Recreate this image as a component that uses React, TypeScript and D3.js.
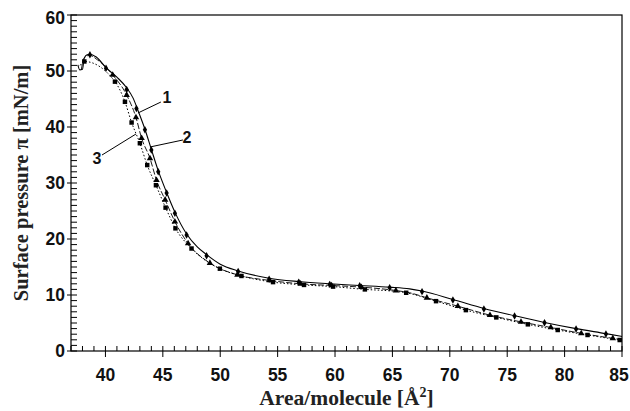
import * as d3 from 'd3'

// Curve 1: solid line, diamond markers
const line1X = [37.6, 37.76, 38.0, 38.15, 38.4, 38.65, 39.2, 40.05, 41.0, 41.85, 42.4, 42.9, 43.44, 44.0, 44.6, 45.33, 46.05, 47.07, 48.0, 48.81, 50.0, 51.56, 54.26, 56.84, 59.54, 62.15, 64.76, 66.5, 67.58, 70.27, 72.97, 75.64, 78.25, 81.0, 83.6, 85.0]
const line1Y = [51.1, 50.2, 50.3, 52.3, 52.9, 53.0, 52.5, 50.6, 48.9, 47.0, 45.2, 42.6, 39.6, 36.0, 32.2, 28.3, 24.8, 20.9, 18.6, 17.2, 15.5, 14.3, 13.0, 12.4, 12.0, 11.7, 11.4, 11.1, 10.7, 9.2, 7.6, 6.3, 5.1, 4.0, 3.1, 2.6]
const mark1X = [38.65, 40.05, 41.85, 42.7, 43.44, 44.0, 44.6, 45.33, 46.05, 47.07, 48.81, 51.56, 54.26, 56.84, 59.54, 62.15, 64.76, 67.58, 70.27, 72.97, 75.64, 78.25, 81.0, 83.6]
const mark1Y = [52.9, 50.5, 46.7, 43.3, 39.5, 35.9, 32.0, 28.2, 24.6, 20.7, 17.0, 14.2, 12.8, 12.3, 11.9, 11.67, 11.3, 10.6, 9.1, 7.5, 6.25, 5.05, 3.93, 3.04]

// Curve 2: dashed line, triangle markers
const line2X = [37.9, 38.1, 38.6, 39.3, 40.63, 41.85, 42.66, 43.15, 43.88, 44.45, 45.2, 46.05, 47.2, 49.1, 51.5, 54.3, 57.0, 59.7, 62.3, 65.3, 66.5, 68.0, 70.7, 73.5, 76.2, 78.8, 81.45, 84.2, 85.0]
const line2Y = [50.2, 52.2, 52.8, 52.0, 49.3, 45.7, 41.7, 38.0, 34.4, 30.5, 27.0, 23.1, 19.2, 15.7, 13.6, 12.6, 12.0, 11.7, 11.4, 10.8, 10.4, 9.5, 8.0, 6.4, 5.2, 4.2, 3.15, 2.26, 2.0]
const mark2X = [40.63, 41.85, 42.66, 43.15, 43.88, 44.45, 45.2, 46.05, 47.2, 49.1, 51.5, 54.3, 57.0, 59.7, 62.3, 65.3, 68.0, 70.7, 73.5, 76.2, 78.8, 81.45, 84.2]
const mark2Y = [49.3, 45.7, 41.7, 38.0, 34.4, 30.5, 27.0, 23.1, 19.2, 15.7, 13.6, 12.6, 12.0, 11.7, 11.4, 10.8, 9.5, 8.0, 6.4, 5.2, 4.2, 3.15, 2.26]

// Curve 3: dotted line, square markers
const line3X = [37.8, 38.16, 40.83, 41.7, 42.28, 43.0, 43.64, 44.4, 45.24, 46.1, 47.5, 49.97, 51.85, 54.6, 57.3, 59.83, 62.6, 65.0, 66.2, 68.8, 71.4, 74.05, 76.8, 79.4, 82.0, 84.8, 85.0]
const line3Y = [51.0, 51.7, 48.1, 44.5, 40.8, 37.1, 33.2, 29.6, 25.6, 21.9, 18.3, 14.7, 13.4, 12.3, 11.8, 11.5, 11.0, 10.7, 10.4, 8.9, 7.3, 6.0, 4.76, 3.75, 2.86, 1.96, 1.9]
const mark3X = [38.16, 40.83, 41.7, 42.28, 43.0, 43.64, 44.4, 45.24, 46.1, 47.5, 49.97, 51.85, 54.6, 57.3, 59.83, 62.6, 66.2, 68.8, 71.4, 74.05, 76.8, 79.4, 82.0, 84.8]
const mark3Y = [51.7, 48.1, 44.5, 40.8, 37.1, 33.2, 29.6, 25.6, 21.9, 18.3, 14.7, 13.4, 12.3, 11.8, 11.5, 11.0, 10.4, 8.9, 7.3, 6.0, 4.76, 3.75, 2.86, 1.96]

// curve labels: text position and leader line (data units)
const labelText = ['1', '2', '3']
const labelX = [45.36, 47.1, 39.26]
const labelY = [45.36, 38.2, 34.46]
const leaderX1 = [44.83, 46.75, 39.7]
const leaderY1 = [44.46, 37.68, 35.0]
const leaderX2 = [42.83, 43.88, 42.66]
const leaderY2 = [42.5, 36.43, 38.75]

const xTicks = [40, 45, 50, 55, 60, 65, 70, 75, 80, 85]
const yTicks = [0, 10, 20, 30, 40, 50, 60]

const width = 630
const height = 411
const margin = { top: 15, right: 8, bottom: 60, left: 71 }

export default function App() {
  const x = d3.scaleLinear().domain([37, 85]).range([margin.left, width - margin.right])
  const y = d3.scaleLinear().domain([0, 60]).range([height - margin.bottom, margin.top])

  const line = d3.line<[number, number]>()
    .x(d => x(d[0]))
    .y(d => y(d[1]))
    .curve(d3.curveMonotoneX)

  const zip = (xs: number[], ys: number[]) => xs.map((v, i) => [v, ys[i]] as [number, number])

  const diamond = d3.symbol().type(d3.symbolDiamond).size(16)()
  const triangle = d3.symbol().type(d3.symbolTriangle).size(18)()
  const square = d3.symbol().type(d3.symbolSquare).size(20)()

  const minorX = d3.range(37, 86, 1).filter(v => v % 5 !== 0)
  const minorY = d3.range(0, 61, 1).filter(v => v % 10 !== 0)
  const x0 = x(37)
  const y0 = y(0)

  return (
    <div style={{ position: 'absolute', left: 0, top: 0 }}>
      <svg width={width} height={height} style={{ display: 'block', background: '#fff' }}>
        {/* frame */}
        <rect x={x(37)} y={y(60)} width={x(85) - x(37)} height={y(0) - y(60)} fill="none" stroke="#000" strokeWidth={1.2} />

        {/* x ticks */}
        {minorX.map(v => (
          <line key={'mx' + v} x1={x(v)} x2={x(v)} y1={y0} y2={y0 - 5} stroke="#000" strokeWidth={1} />
        ))}
        {xTicks.map(v => (
          <g key={'x' + v}>
            <line x1={x(v)} x2={x(v)} y1={y0 - 5} y2={y0 + 6} stroke="#000" strokeWidth={1} />
            <text x={x(v) - (v === 85 ? 3 : 0)} y={381} textAnchor="middle" fontFamily="'Liberation Sans', Arial, sans-serif" fontWeight="bold" fontSize={17.5} fill="#111">{v}</text>
          </g>
        ))}

        {/* y ticks */}
        {minorY.map(v => (
          <line key={'my' + v} x1={x0} x2={x0 + 6} y1={y(v)} y2={y(v)} stroke="#000" strokeWidth={1} />
        ))}
        {yTicks.map(v => (
          <g key={'y' + v}>
            <line x1={x0 - 4} x2={x0 + 6} y1={y(v)} y2={y(v)} stroke="#000" strokeWidth={1} />
            <text x={65} y={y(v) + (v === 60 ? 9 : 6)} textAnchor="end" fontFamily="'Liberation Sans', Arial, sans-serif" fontWeight="bold" fontSize={17.5} fill="#111">{v}</text>
          </g>
        ))}

        {/* curves */}
        <path d={line(zip(line1X, line1Y)) ?? ''} fill="none" stroke="#000" strokeWidth={1.1} />
        <path d={line(zip(line2X, line2Y)) ?? ''} fill="none" stroke="#000" strokeWidth={0.9} strokeDasharray="6,2" />
        <path d={line(zip(line3X, line3Y)) ?? ''} fill="none" stroke="#000" strokeWidth={1} strokeDasharray="1.5,2" />

        {zip(mark1X, mark1Y).map((d, i) => (
          <path key={'d' + i} d={diamond ?? ''} transform={`translate(${x(d[0])},${y(d[1])})`} fill="#000" />
        ))}
        {zip(mark2X, mark2Y).map((d, i) => (
          <path key={'t' + i} d={triangle ?? ''} transform={`translate(${x(d[0])},${y(d[1])})`} fill="#000" />
        ))}
        {zip(mark3X, mark3Y).map((d, i) => (
          <path key={'s' + i} d={square ?? ''} transform={`translate(${x(d[0])},${y(d[1])})`} fill="#000" />
        ))}

        {/* curve numbers */}
        {labelText.map((t, i) => (
          <g key={'l' + i}>
            <line x1={x(leaderX1[i])} y1={y(leaderY1[i])} x2={x(leaderX2[i])} y2={y(leaderY2[i])} stroke="#000" strokeWidth={1} />
            <text x={x(labelX[i])} y={y(labelY[i]) + 6} textAnchor="middle" fontFamily="'Liberation Sans', Arial, sans-serif" fontWeight="bold" fontSize={16} fill="#111">{t}</text>
          </g>
        ))}

        {/* axis titles */}
        <text x={(x(37) + x(85)) / 2} y={405} textAnchor="middle" fontFamily="'Liberation Serif', 'Times New Roman', serif" fontWeight="bold" fontSize={21.5} fill="#222">
          Area/molecule [Å<tspan dy={-8} fontSize={14}>2</tspan><tspan dy={8}>]</tspan>
        </text>
        <text transform={`translate(28,${(y(0) + y(60)) / 2}) rotate(-90)`} textAnchor="middle" fontFamily="'Liberation Serif', 'Times New Roman', serif" fontWeight="bold" fontSize={20.5} fill="#222">
          Surface pressure π [mN/m]
        </text>
      </svg>
    </div>
  )
}
